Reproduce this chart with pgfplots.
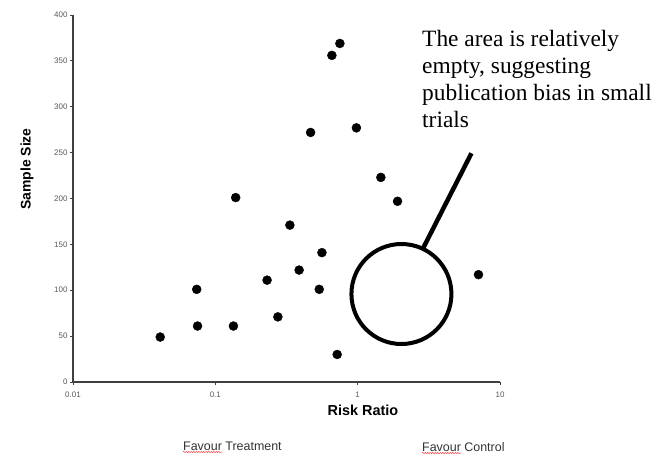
\documentclass[border=0pt]{standalone}
\usepackage{fontspec}
\setmainfont{Liberation Serif}
\newfontfamily\arial{Liberation Sans}
\usepackage{pgfplots}
\pgfplotsset{compat=1.18}
\usetikzlibrary{decorations.pathmorphing}
\newlength\favw
\AtBeginDocument{\settowidth{\favw}{\arial\fontsize{12.5}{14}\selectfont Favour}}

\begin{document}
\begin{tikzpicture}
\useasboundingbox (-73bp,-75bp) rectangle (589bp,382bp);
\begin{axis}[
  at={(0,0)}, anchor=south west,
  scale only axis, width=427bp, height=367bp,
  xmode=log, xmin=0.01, xmax=10, ymin=0, ymax=400,
  axis lines=left,
  axis line style={-, line width=1.4bp, draw=black!75},
  xtick={0.01,0.1,1,10}, xticklabels={0.01,0.1,1,10},
  ytick={0,50,100,150,200,250,300,350,400},
  yticklabels={0,50,100,150,200,250,300,350,400},
  xminorticks=false,
  tick align=outside, major tick length=3bp,
  tick style={line width=0.8bp, draw=black!75},
  tick label style={font=\arial\fontsize{8}{9}\selectfont, text=black!65},
  xticklabel style={yshift=-3bp},
  yticklabel style={xshift=1bp},
  clip=false,
]
\addplot[only marks, mark=*, mark size=4.5bp, black] coordinates {
(0.041,49) (0.074,101) (0.075,61) (0.134,61) (0.139,201) (0.231,111)
(0.275,71) (0.334,171) (0.388,122) (0.537,101) (0.561,141) (0.467,272)
(0.659,356) (0.75,369) (0.98,277) (0.718,30) (1.455,223) (1.906,197)
(7.06,117)
};
\draw[line width=4bp] (axis cs:2.03,95.9) circle[radius=50bp];
\draw[line width=4.5bp] (axis cs:2.88,145.7) -- (axis cs:6.3,249.3);
\end{axis}
\node[rotate=90, font=\arial\bfseries\fontsize{14}{16}\selectfont] at (-46bp,213bp) {Sample Size};
\node[font=\arial\bfseries\fontsize{14.5}{16}\selectfont] at (290bp,-28bp) {Risk Ratio};
\node[anchor=base west, inner sep=0, font=\arial\fontsize{12.5}{14}\selectfont, text=black!80] at (110bp,-68bp) {Favour Treatment};
\draw[red!80, line width=0.5bp, decorate, decoration={snake, amplitude=0.6bp, segment length=2.5bp}] (110bp,-70bp) -- ++(\favw,0);
\node[anchor=base west, inner sep=0, font=\arial\fontsize{12.5}{14}\selectfont, text=black!80] at (349bp,-69bp) {Favour Control};
\draw[red!80, line width=0.5bp, decorate, decoration={snake, amplitude=0.6bp, segment length=2.5bp}] (349bp,-71bp) -- ++(\favw,0);
\node[anchor=north west, inner sep=0, align=left, font=\fontsize{23.5}{27}\selectfont] at (349bp,352bp) {The area is relatively\\empty, suggesting\\publication bias in small\\trials};
\end{tikzpicture}
\end{document}
